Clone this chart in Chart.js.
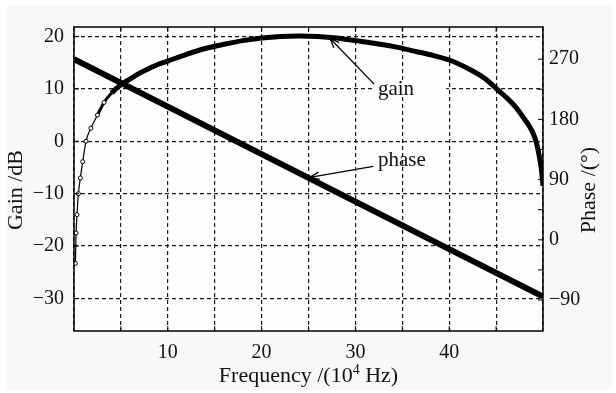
<!DOCTYPE html>
<html><head><meta charset="utf-8">
<script src="https://cdn.jsdelivr.net/npm/chart.js@4.4.0/dist/chart.umd.min.js"></script>
<style>html,body{margin:0;padding:0;background:#fff;}#wrap{width:616px;height:393px;position:relative;}</style>
</head><body><div id="wrap"><canvas id="c" width="616" height="393"></canvas></div>
<script>
// ---- data ----
const freqGain = [0.15,0.22,0.32,0.47,0.68,0.93,1.28,1.8,2.5,3.2,4.0,5.0,6.0,7.0,8.0,9.0,10,12,14,16,18,20,22,24,26,28,30,32,34,36,38,40,42,43,44,45,46,47,48,48.5,49,49.3,49.6,49.8,50];
const gainDb   = [-23.3,-17.5,-14.0,-10.0,-7.0,-3.9,0.0,2.5,5.0,7.4,9.2,10.8,11.9,13.0,13.9,14.7,15.3,16.6,17.7,18.5,19.2,19.7,20.0,20.1,20.0,19.7,19.2,18.7,18.1,17.3,16.5,15.5,13.9,12.9,11.7,10.1,8.5,6.7,4.3,3.0,1.3,-0.3,-2.8,-5.0,-8.5];
const freqPhase = [0,10,20,30,40,50];
const phaseDeg  = [270,199,128,57,-14,-85];
const freqTicks = [0,5,10,15,20,25,30,35,40,45,50];
const freqLabels = [10,20,30,40];
const gainTicks = [-30,-20,-10,0,10,20];
const phaseTicks = [-90,-45,0,45,90,135,180,225,270];
const phaseLabels = [-90,0,90,180,270];

const FONT = '"Liberation Serif", "Times New Roman", serif';
const fmt = v => String(v).replace('-', '\u2212');

const decor = {
  id: 'decor',
  beforeDraw(chart) {
    const {ctx, chartArea: a} = chart;
    ctx.save();
    ctx.fillStyle = '#ffffff'; ctx.fillRect(0, 0, chart.width, chart.height);
    ctx.fillStyle = '#f8f8f8'; ctx.fillRect(7, 5, 605, 385);
    ctx.fillStyle = '#fdfdfd'; ctx.fillRect(a.left, a.top, a.right - a.left, a.bottom - a.top);
    ctx.restore();
  },
  afterDraw(chart) {
    const {ctx, chartArea: a, scales: {x, y, y2}} = chart;
    ctx.save();
    const line = (x1, y1, x2, y2_) => { ctx.beginPath(); ctx.moveTo(x1, y1); ctx.lineTo(x2, y2_); ctx.stroke(); };
    ctx.strokeStyle = '#000'; ctx.lineWidth = 1; ctx.setLineDash([]);
    const L = 5;
    freqTicks.forEach(v => { if (v <= x.min || v >= x.max) return; const p = x.getPixelForValue(v); line(p, a.bottom, p, a.bottom - L); line(p, a.top, p, a.top + L); });
    gainTicks.forEach(v => { const p = y.getPixelForValue(v); line(a.left, p, a.left + L, p); });
    phaseTicks.forEach(v => { const p = y2.getPixelForValue(v); line(a.right, p, a.right - L, p); });
    ctx.lineWidth = 1.5;
    ctx.strokeRect(a.left, a.top, a.right - a.left, a.bottom - a.top);

    // annotations (data coordinates)
    const notes = [
      {label: 'gain',  sc: y,  tip: [27.3, 19.6], tail: [32.0, 10.9], at: [32.4, 9.9], box: 39.8},
      {label: 'phase', sc: y2, tip: [25.15, 93.4], tail: [31.9, 109.9], at: [32.4, 118.9]}
    ];
    ctx.font = '21px ' + FONT;
    notes.forEach(n => {
      const tx = x.getPixelForValue(n.tip[0]), ty = n.sc.getPixelForValue(n.tip[1]);
      const sx = x.getPixelForValue(n.tail[0]), sy = n.sc.getPixelForValue(n.tail[1]);
      const lx = x.getPixelForValue(n.at[0]), ly = n.sc.getPixelForValue(n.at[1]);
      if (n.box) {
        ctx.fillStyle = '#fdfdfd';
        ctx.fillRect(sx - 1, ly - 8, x.getPixelForValue(n.box) - sx, 14);
      }
      ctx.strokeStyle = '#000'; ctx.lineWidth = 1.3;
      line(sx, sy, tx, ty);
      const ang = Math.atan2(ty - sy, tx - sx), hl = 10, ha = 0.38;
      line(tx, ty, tx - hl * Math.cos(ang - ha), ty - hl * Math.sin(ang - ha));
      line(tx, ty, tx - hl * Math.cos(ang + ha), ty - hl * Math.sin(ang + ha));
      ctx.fillStyle = '#111'; ctx.textAlign = 'left'; ctx.textBaseline = 'middle';
      ctx.fillText(n.label, lx, ly);
    });

    // axis titles
    ctx.fillStyle = '#111'; ctx.textBaseline = 'alphabetic';
    const cx = (a.left + a.right) / 2;
    const f1 = '22px ' + FONT, f2 = '14px ' + FONT;
    const t1 = 'Frequency /(10', t2 = '4', t3 = ' Hz)';
    ctx.font = f1; const w1 = ctx.measureText(t1).width, w3 = ctx.measureText(t3).width;
    ctx.font = f2; const w2 = ctx.measureText(t2).width;
    let px = cx - (w1 + w2 + w3) / 2; const by = 381.5;
    ctx.textAlign = 'left';
    ctx.font = f1; ctx.fillText(t1, px, by); px += w1;
    ctx.font = f2; ctx.fillText(t2, px, by - 8); px += w2;
    ctx.font = f1; ctx.fillText(t3, px, by);

    const cy = (a.top + a.bottom) / 2 + 11;
    ctx.font = f1; ctx.textAlign = 'center';
    ctx.save(); ctx.translate(22, cy); ctx.rotate(-Math.PI / 2); ctx.fillText('Gain /dB', 0, 0); ctx.restore();
    ctx.save(); ctx.translate(595, cy); ctx.rotate(-Math.PI / 2); ctx.fillText('Phase /(\u00B0)', 0, 0); ctx.restore();
    ctx.restore();
  }
};

const tickFont = {family: FONT, size: 20};
new Chart(document.getElementById('c'), {
  type: 'line',
  data: {
    datasets: [
      {
        label: 'gain', yAxisID: 'y',
        data: freqGain.map((f, i) => ({x: f, y: gainDb[i]})),
        borderColor: '#000', borderWidth: 5, cubicInterpolationMode: 'monotone',
        segment: {borderWidth: c => c.p0.parsed.x < 2.4 ? 1.2 : (c.p0.parsed.x < 3.9 ? 3 : 5)},
        pointRadius: c => (c.raw && c.raw.x < 3.3) ? 2 : 0,
        pointBorderWidth: 1, pointBackgroundColor: '#fff', pointBorderColor: '#000', fill: false
      },
      {
        label: 'phase', yAxisID: 'y2',
        data: freqPhase.map((f, i) => ({x: f, y: phaseDeg[i]})),
        borderColor: '#000', borderWidth: 6, pointRadius: 0, fill: false
      }
    ]
  },
  options: {
    responsive: false, animation: false,
    layout: {padding: {top: 27, left: 0, right: 0, bottom: 0}},
    plugins: {legend: {display: false}, tooltip: {enabled: false}},
    scales: {
      x: {
        type: 'linear', position: 'bottom', min: 0, max: 50,
        afterBuildTicks: s => { s.ticks = freqTicks.map(v => ({value: v})); },
        afterFit: s => { s.height = 62; },
        grid: {color: '#1a1a1a', lineWidth: 1.2, drawTicks: false},
        border: {display: false, dash: [4, 3]},
        ticks: {callback: v => freqLabels.includes(v) ? String(v) : '', font: tickFont, color: '#111', padding: 10, maxRotation: 0, autoSkip: false}
      },
      y: {
        type: 'linear', position: 'left', min: -36.2, max: 21.8,
        afterBuildTicks: s => { s.ticks = gainTicks.map(v => ({value: v})); },
        afterFit: s => { s.width = 74; },
        grid: {color: '#1a1a1a', lineWidth: 1.2, drawTicks: false},
        border: {display: false, dash: [4, 3]},
        ticks: {callback: v => fmt(v), font: tickFont, color: '#111', padding: 10, autoSkip: false}
      },
      y2: {
        type: 'linear', position: 'right', min: -136.3, max: 318.1,
        afterBuildTicks: s => { s.ticks = phaseTicks.map(v => ({value: v})); },
        afterFit: s => { s.width = 73; },
        grid: {display: false, drawTicks: false},
        border: {display: false},
        ticks: {callback: v => phaseLabels.includes(v) ? fmt(v) : '', font: tickFont, color: '#111', padding: 6, autoSkip: false}
      }
    }
  },
  plugins: [decor]
});
</script></body></html>
